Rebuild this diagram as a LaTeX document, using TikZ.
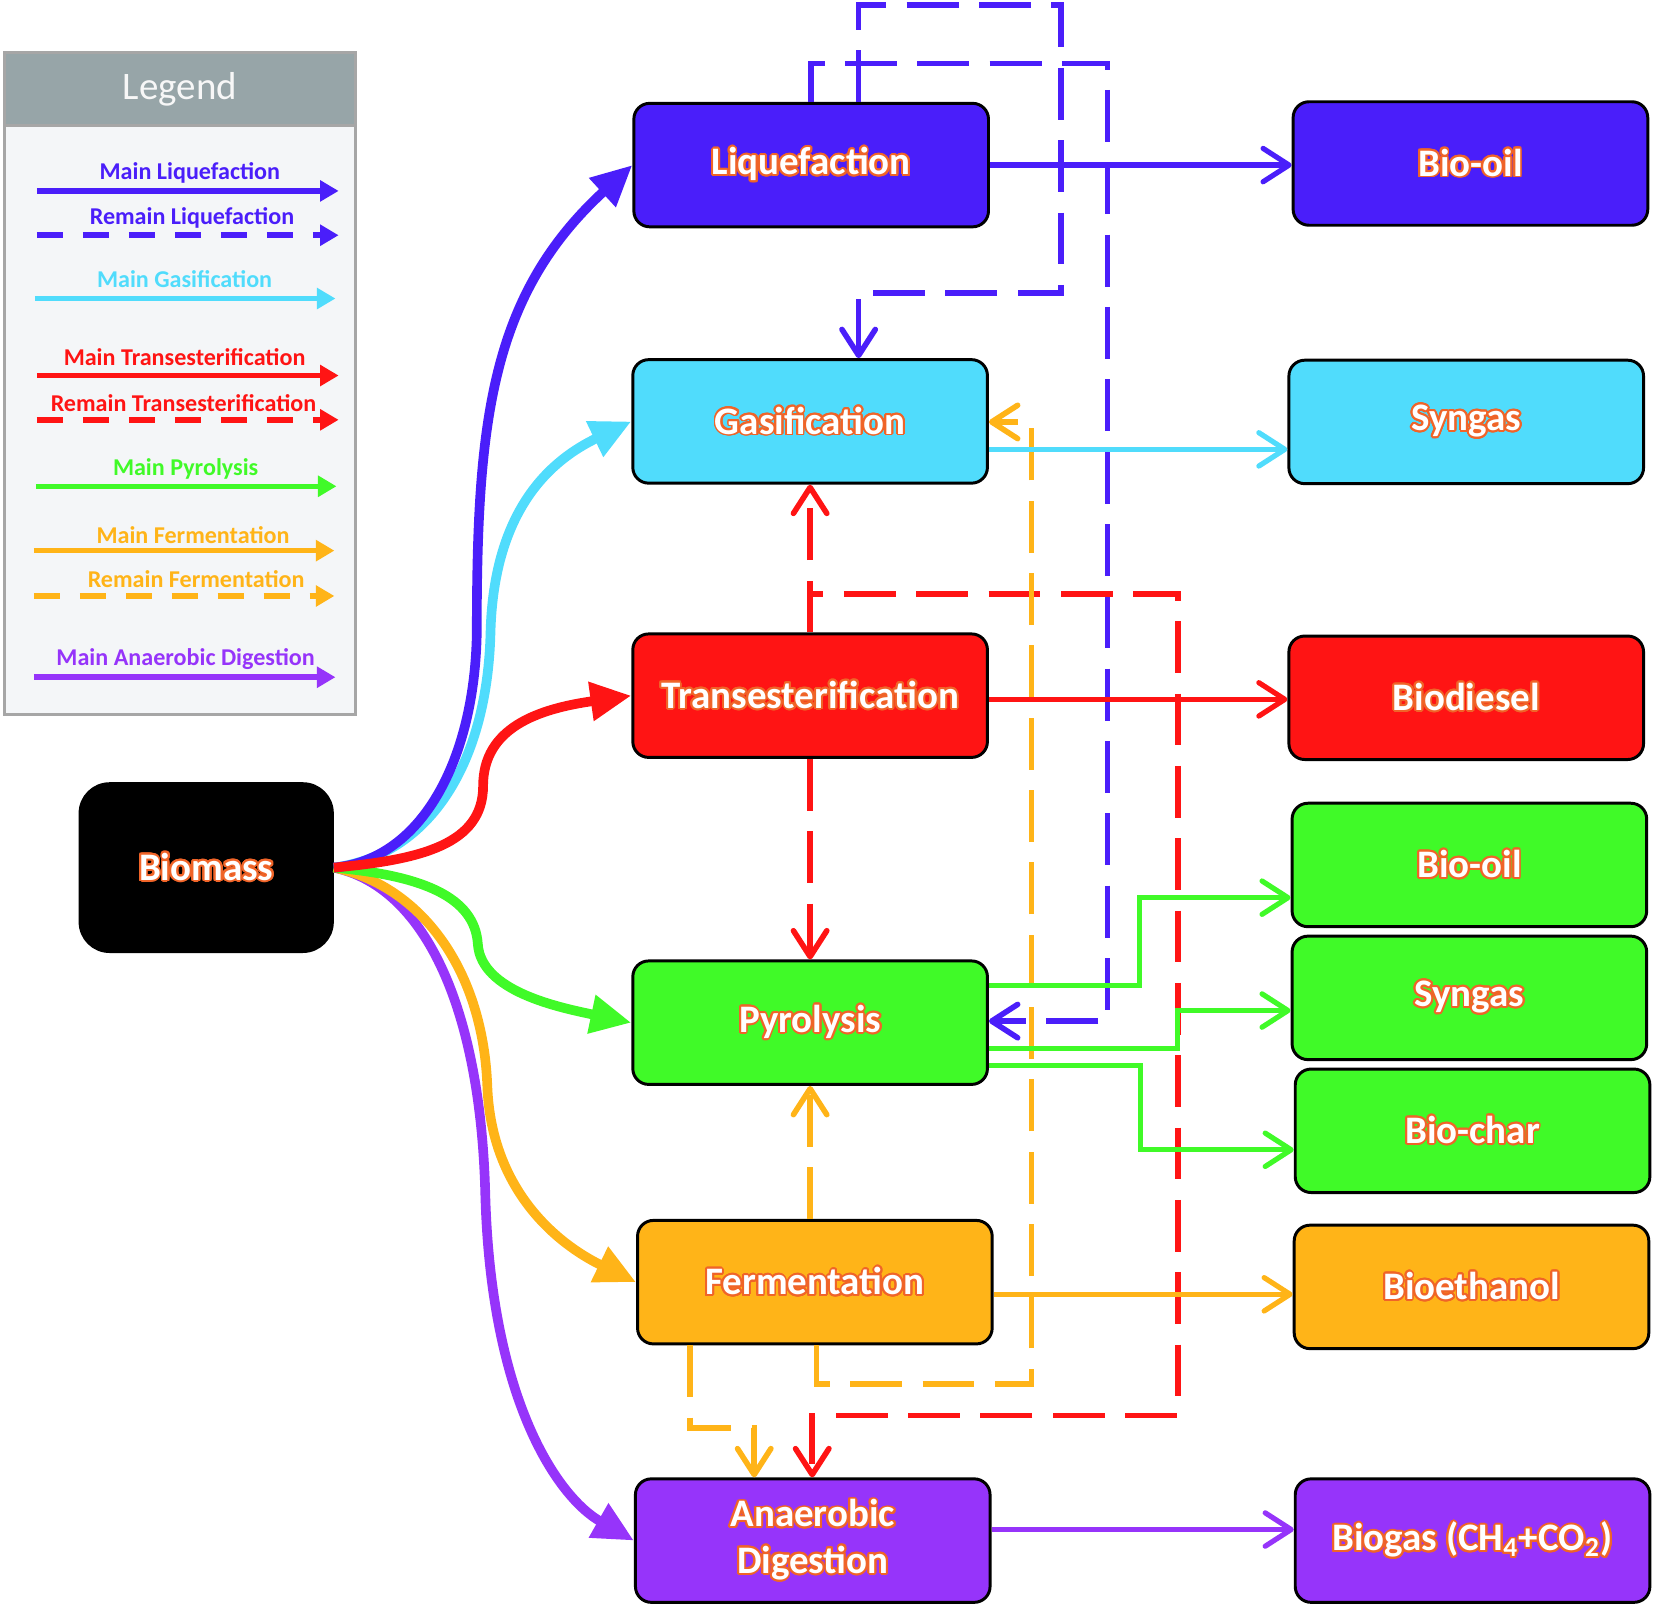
\documentclass[tikz,border=0pt]{standalone}
\usepackage{fontspec}
\setmainfont{Carlito}
\usepackage[copies]{contour}
\usetikzlibrary{arrows.meta,calc}
\contourlength{0.5pt}
\contournumber{24}

\definecolor{liqblue}{RGB}{74,30,250}
\definecolor{gascyan}{RGB}{80,220,252}
\definecolor{transred}{RGB}{255,20,20}
\definecolor{pyrogreen}{RGB}{64,250,40}
\definecolor{fermorange}{RGB}{255,180,24}
\definecolor{adpurple}{RGB}{150,52,250}
\definecolor{edgeorange}{RGB}{240,100,40}
\definecolor{legendgrey}{RGB}{151,165,168}
\definecolor{legendback}{RGB}{244,246,248}

\newcommand{\glow}[1]{\contour{edgeorange}{#1}}

\tikzset{
  procbox/.style={draw=black, line width=0.8pt, rounded corners=0.15cm, minimum width=3.36cm, minimum height=1.17cm, inner sep=0pt, text=white, font=\bfseries\fontsize{10.5}{12.5}\selectfont, align=center},
  mainflow/.style={line width=2.6pt, -{Triangle[length=11pt,width=10pt]}},
  product/.style={line width=1.4pt, -{Straight Barb[length=7pt,width=9pt,round]}},
  remain/.style={line width=1.5pt, dash pattern=on 14pt off 5.5pt, -{Straight Barb[length=7pt,width=9pt,round]}},
  legendarrow/.style={line width=1.5pt, -{Triangle[length=5pt,width=5.5pt]}},
  legenddash/.style={legendarrow, dash pattern=on 7pt off 5.4pt},
  legendtext/.style={font=\bfseries\fontsize{6.5}{7}\selectfont, inner sep=0pt},
}

\begin{document}
\begin{tikzpicture}[x=0.01cm, y=-0.01cm]
	%%%%% START %%%%%
	\useasboundingbox (0,0) rectangle (1568,1524);
	
	%%%%% LEGEND %%%%%
	\draw[draw=gray!70, line width=0.8pt, fill=legendback] (4,50) rectangle (337,677);
	\draw[draw=gray!70, line width=0.8pt, fill=legendgrey] (4,50) rectangle (337,119);
	\node[text=white!94!gray, font=\fontsize{10.5}{12}\selectfont] (legtitle) at (170.5,85) {Legend};
	
	\node[legendtext, text=liqblue] (legliqmain) at (180,164) {Main Liquefaction};
	\draw[legendarrow, liqblue] (35,181) -- (321,181);
	\node[legendtext, text=liqblue] (legliqrest) at (182,207) {Remain Liquefaction};
	\draw[legenddash, liqblue] (35,223) -- (321,223);
	
	\node[legendtext, text=gascyan] (leggasmain) at (175,265) {Main Gasification};
	\draw[legendarrow, gascyan] (33,283) -- (318,283);
	
	\node[legendtext, text=transred] (legtransmain) at (175,339) {Main Transesterification};
	\draw[legendarrow, transred] (35,356) -- (321,356);
	\node[legendtext, text=transred] (legtransrest) at (174,382) {Remain Transesterification};
	\draw[legenddash, transred] (35,398) -- (321,398);
	
	\node[legendtext, text=pyrogreen] (legpyromain) at (176,445) {Main Pyrolysis};
	\draw[legendarrow, pyrogreen] (34,461) -- (319,461);
	
	\node[legendtext, text=fermorange] (legfermmain) at (183,507) {Main Fermentation};
	\draw[legendarrow, fermorange] (32,522) -- (317,522);
	\node[legendtext, text=fermorange] (legfermrest) at (186,549) {Remain Fermentation};
	\draw[legenddash, fermorange] (32,565) -- (317,565);
	
	\node[legendtext, text=adpurple] (legadmain) at (176,625) {Main Anaerobic Digestion};
	\draw[legendarrow, adpurple] (32,642) -- (318,642);
	
	%%%%% PROCESSES %%%%%
	\node[procbox, fill=black, minimum width=2.39cm, minimum height=1.59cm, rounded corners=0.28cm] (bio) at (195.5,822.5) {\glow{Biomass}};
	
	\node[procbox, fill=liqblue] (liq) at (769,156.5) {\glow{Liquefaction}};
	\node[procbox, fill=gascyan] (gas) at (768,399.5) {\glow{Gasification}};
	\node[procbox, fill=transred] (trans) at (768,659.5) {\glow{Transesterification}};
	\node[procbox, fill=pyrogreen] (pyro) at (768,969.5) {\glow{Pyrolysis}};
	\node[procbox, fill=fermorange] (ferm) at (772.5,1215.5) {\glow{Fermentation}};
	\node[procbox, fill=adpurple] (ad) at (770.5,1460.5) {\glow{Anaerobic}\\\glow{Digestion}};
	
	%%%%% PRODUCTS %%%%%
	\node[procbox, fill=liqblue] (oilA) at (1394,155) {\glow{Bio-oil}};
	\node[procbox, fill=gascyan] (synA) at (1390,400) {\glow{Syngas}};
	\node[procbox, fill=transred] (diesel) at (1390,661.5) {\glow{Biodiesel}};
	\node[procbox, fill=pyrogreen] (oilB) at (1393,820) {\glow{Bio-oil}};
	\node[procbox, fill=pyrogreen] (synB) at (1393,946) {\glow{Syngas}};
	\node[procbox, fill=pyrogreen] (char) at (1396,1072) {\glow{Bio-char}};
	\node[procbox, fill=fermorange] (ethanol) at (1395,1220) {\glow{Bioethanol}};
	\node[procbox, fill=adpurple] (biogas) at (1396,1460.5) {\glow{Biogas (CH\textsubscript{4}+CO\textsubscript{2})}};
	
	%%%%% REMAIN (DASHED) %%%%%
	\draw[remain, liqblue] (liq.north -| 814,0) |- (1006,5) |- (814,278) -- (gas.north -| 814,0);
	\draw[remain, liqblue] (liq.north -| 769,0) |- (1050,60) |- (pyro.east |- 0,968);
	
	\draw[remain, transred] (trans.north) -- (gas.south);
	\draw[remain, transred] (trans.south) -- (pyro.north);
	\draw[remain, transred] (trans.north) |- (1117,563) |- (770,1342) -- (ad.north -| 770,0);
	
	\draw[remain, fermorange] (ferm.north -| 768,0) -- (pyro.south -| 768,0);
	\draw[remain, fermorange] (ferm.south -| 774,0) |- (978,1312) |- (gas.east |- 0,400);
	\draw[remain, fermorange] (ferm.south -| 654,0) |- (715,1354) -- (ad.north -| 715,0);
	
	%%%%% MAIN OUTPUTS %%%%%
	\draw[product, liqblue] (liq.east) -- (liq.east -| oilA.west);
	\draw[product, gascyan] (gas.east |- 0,426) -- (synA.west |- 0,426);
	\draw[product, transred] (trans.east |- 0,663) -- (diesel.west |- 0,663);
	\draw[product, pyrogreen] (pyro.east |- 0,934) -| (1080,851) -- (oilB.west |- 0,851);
	\draw[product, pyrogreen] (pyro.east |- 0,994) -| (1116,958) -- (synB.west |- 0,958);
	\draw[product, pyrogreen] (pyro.east |- 0,1010) -| (1081,1090) -- (char.west |- 0,1090);
	\draw[product, fermorange] (ferm.east |- 0,1227) -- (ethanol.west |- 0,1227);
	\draw[product, adpurple] (ad.east |- 0,1450) -- (biogas.west |- 0,1450);
	
	%%%%% MAIN ROUTES FROM BIOMASS %%%%%
	\draw[mainflow, adpurple] (bio.east) .. controls (400,840) and (455,950) .. (460,1130) .. controls (465,1330) and (530,1420) .. (ad.west);
	\draw[mainflow, fermorange] (bio.east) .. controls (400,840) and (458,920) .. (462,1030) .. controls (466,1130) and (530,1180) .. (ferm.west);
	\draw[mainflow, pyrogreen] (bio.east) .. controls (400,830) and (450,850) .. (453,895) .. controls (456,940) and (530,955) .. (pyro.west);
	\draw[mainflow, gascyan] (bio.east) .. controls (410,810) and (462,720) .. (465,600) .. controls (468,480) and (525,435) .. (gas.west);
	\draw[mainflow, liqblue] (bio.east) .. controls (400,815) and (450,720) .. (452,600) .. controls (452,400) and (465,280) .. (liq.west);
	\draw[mainflow, transred] (bio.east) .. controls (400,815) and (458,800) .. (458,745) .. controls (458,690) and (510,672) .. (trans.west);
	
	%%%%% END %%%%%
\end{tikzpicture}
\end{document}
